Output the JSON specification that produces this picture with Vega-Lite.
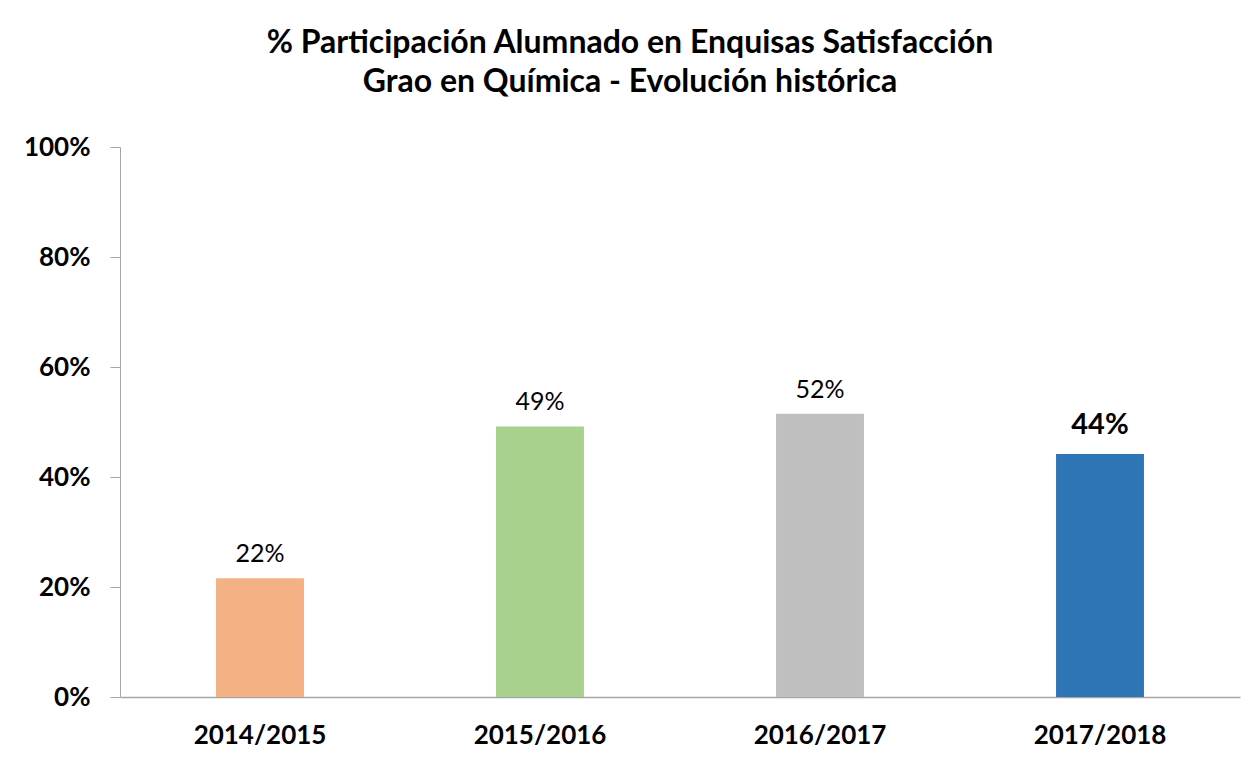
{
  "$schema": "https://vega.github.io/schema/vega-lite/v6.json",
  "width": 1120,
  "height": 550,
  "autosize": {"type": "none"},
  "padding": {"left": 120, "top": 147, "right": 14, "bottom": 63},
  "background": "white",
  "title": {
    "text": ["% Participación Alumnado en Enquisas Satisfacción", "Grao en Química - Evolución histórica"],
    "font": "Lato",
    "fontSize": 32,
    "fontWeight": "bold",
    "color": "#000000",
    "lineHeight": 39,
    "anchor": "middle",
    "dx": -50,
    "offset": 35
  },
  "config": {
    "view": {"stroke": null},
    "font": "Lato"
  },
  "data": {
    "values": [
      {"curso": "2014/2015", "pct": 0.216},
      {"curso": "2015/2016", "pct": 0.492},
      {"curso": "2016/2017", "pct": 0.515},
      {"curso": "2017/2018", "pct": 0.442}
    ]
  },
  "encoding": {
    "x": {
      "field": "curso",
      "type": "nominal",
      "sort": null,
      "scale": {"paddingInner": 0.686, "paddingOuter": 0.343},
      "axis": {
        "title": null,
        "labelAngle": 0,
        "ticks": false,
        "domainColor": "#A6A6A6",
        "domainWidth": 1.5,
        "labelFont": "Lato",
        "labelFontSize": 26,
        "labelFontWeight": "bold",
        "labelColor": "#000000",
        "labelPadding": 25
      }
    },
    "y": {
      "field": "pct",
      "type": "quantitative",
      "scale": {"domain": [0, 1], "nice": false},
      "axis": {
        "title": null,
        "values": [0, 0.2, 0.4, 0.6, 0.8, 1],
        "format": ".0%",
        "grid": false,
        "domainColor": "#A6A6A6",
        "tickColor": "#A6A6A6",
        "tickSize": 10,
        "labelFont": "Lato",
        "labelFontSize": 26,
        "labelFontWeight": "bold",
        "labelColor": "#000000",
        "labelPadding": 20
      }
    }
  },
  "layer": [
    {
      "mark": {"type": "bar"},
      "encoding": {
        "color": {
          "field": "curso",
          "type": "nominal",
          "scale": {"domain": ["2014/2015", "2015/2016", "2016/2017", "2017/2018"], "range": ["#F4B183", "#A9D18E", "#BFBFBF", "#2E75B6"]},
          "legend": null
        }
      }
    },
    {
      "transform": [{"filter": "datum.curso != '2017/2018'"}],
      "mark": {"type": "text", "baseline": "bottom", "dy": -11, "font": "Lato", "fontSize": 25, "color": "#000000"},
      "encoding": {"text": {"field": "pct", "type": "quantitative", "format": ".0%"}}
    },
    {
      "transform": [{"filter": "datum.curso == '2017/2018'"}],
      "mark": {"type": "text", "baseline": "bottom", "dy": -14, "font": "Lato", "fontSize": 29, "fontWeight": "bold", "color": "#000000"},
      "encoding": {"text": {"field": "pct", "type": "quantitative", "format": ".0%"}}
    }
  ]
}
